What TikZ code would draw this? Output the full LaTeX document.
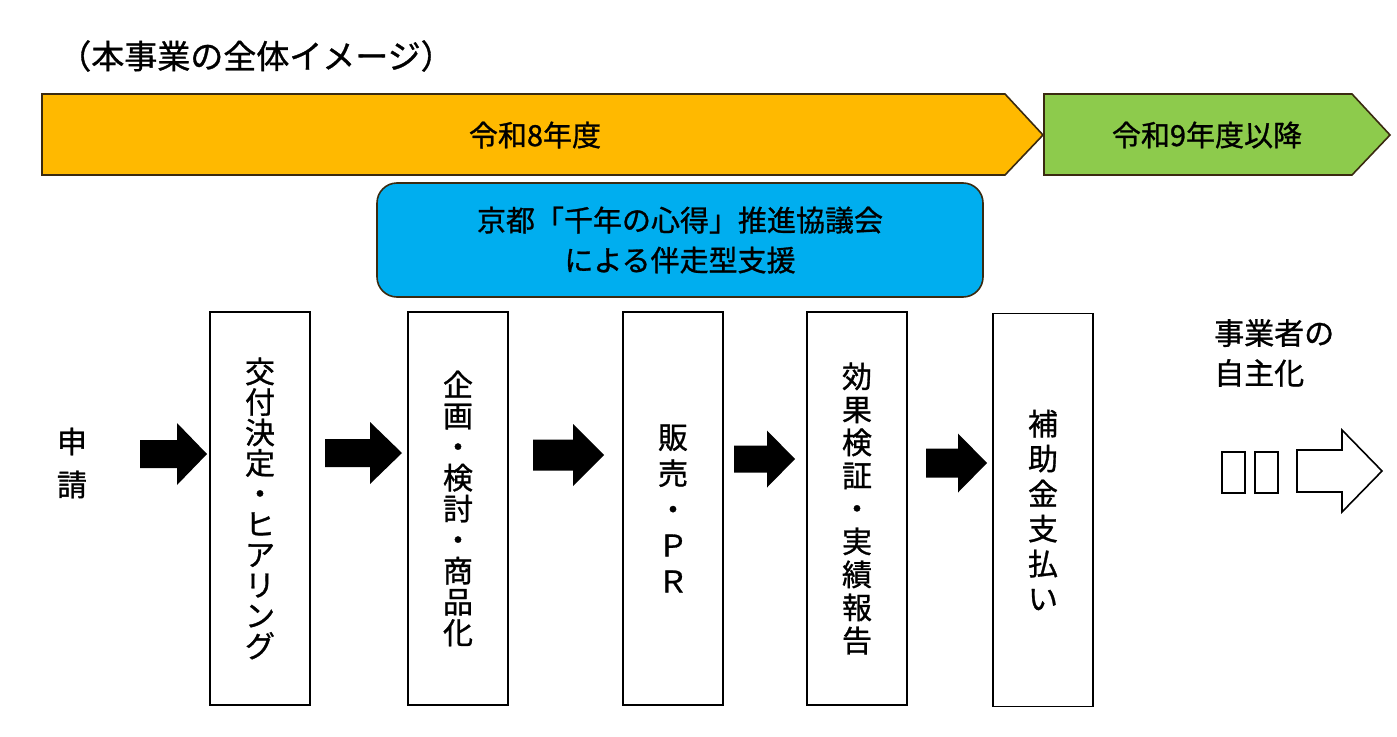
\documentclass[tikz,border=0pt]{standalone}
\usepackage{fontspec}
\setmainfont{Noto Sans CJK JP}[RawFeature={embolden=1.0}]
\definecolor{orange8}{HTML}{FFB900}
\definecolor{green9}{HTML}{8DCB4C}
\definecolor{blueS}{HTML}{00AEEF}
\definecolor{edge}{HTML}{3A2A10}
\tikzset{
  barline/.style={draw=edge, line width=1.6pt},
  barlabel/.style={font=\fontsize{29}{31}\selectfont, inner sep=0pt},
  stepbox/.style={draw=black, line width=1.6pt, minimum width=100pt, minimum height=393pt, inner sep=0pt, align=center},
  vfont/.style={font=\fontsize{30}{#1}\selectfont},
  blkarrow/.style={fill=black},
}
\newcommand\blockarrow[6]{\fill[blkarrow] (#1,#4-#5) -- (#2,#4-#5) -- (#2,#4-#6) -- (#3,#4) -- (#2,#4+#6) -- (#2,#4+#5) -- (#1,#4+#5) -- cycle;}
\begin{document}
\begin{tikzpicture}[x=1pt,y=-1pt]
\useasboundingbox (0,0) rectangle (1397,736);
\fill[white] (0,0) rectangle (1397,736);
\node[font=\fontsize{33}{35}\selectfont, inner sep=0pt] (title) at (256,56) {（本事業の全体イメージ）};
\draw[barline, fill=orange8] (42,94) -- (1005,94) -- (1043,135) -- (1005,175) -- (42,175) -- cycle;
\node[barlabel] (y8) at (535,135) {令和8年度};
\draw[barline, fill=green9] (1044,94) -- (1352,94) -- (1390,135) -- (1352,175) -- (1044,175) -- cycle;
\node[barlabel] (y9) at (1207,135) {令和9年度以降};
\node[draw=edge, line width=1.6pt, fill=blueS, rounded corners=20pt, minimum width=606pt, minimum height=114pt, align=center, font=\fontsize{29}{40}\selectfont] (sup) at (680,240) {京都「千年の心得」推進協議会\\による伴走型支援};
\node[align=center, inner sep=0pt, vfont=43] (apply) at (72,463) {申\\請};
\node[stepbox, vfont=30.5] (b1) at (260,508.5) {交\\付\\決\\定\\・\\ヒ\\ア\\リ\\ン\\グ};
\node[stepbox, vfont=31] (b2) at (458,508.5) {企\\画\\・\\検\\討\\・\\商\\品\\化};
\node[stepbox, vfont=36] (b3) at (673,508.5) {販\\売\\・\\Ｐ\\Ｒ};
\node[stepbox, vfont=33] (b4) at (857,508.5) {効\\果\\検\\証\\・\\実\\績\\報\\告};
\node[stepbox, vfont=35] (b5) at (1043,510) {補\\助\\金\\支\\払\\い};
\blockarrow{140}{177}{207}{454}{14}{31}
\blockarrow{325}{370}{402}{453}{14}{31}
\blockarrow{533}{573}{604}{455}{15.5}{31}
\blockarrow{734}{767}{795}{459}{13.5}{28.5}
\blockarrow{926}{958}{987}{463}{14.5}{29.5}
\node[anchor=west, align=left, inner sep=0pt, font=\fontsize{30}{40}\selectfont] (self) at (1214,353) {事業者の\\自主化};
\draw[line width=1.6pt] (1222,452) rectangle (1245,493);
\draw[line width=1.6pt] (1255,452) rectangle (1278,493);
\draw[line width=1.6pt, line join=miter] (1297,450) -- (1342,450) -- (1342,430) -- (1382,471) -- (1342,512) -- (1342,492) -- (1297,492) -- cycle;
\end{tikzpicture}
\end{document}
